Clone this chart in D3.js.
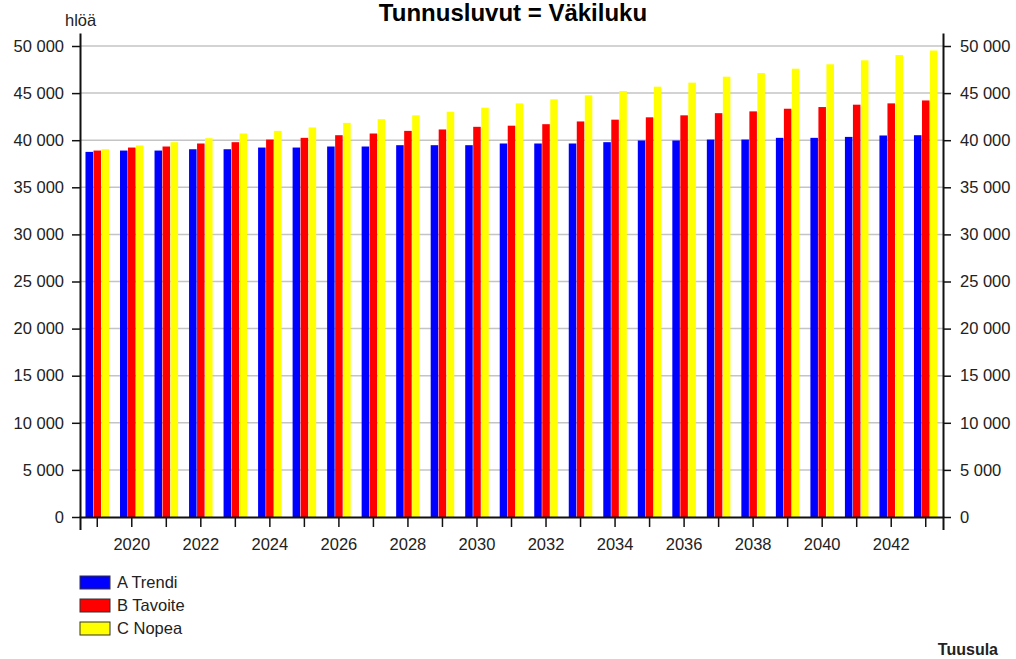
<!DOCTYPE html>
<html lang="fi">
<head>
    <meta charset="UTF-8">
    <title>Tunnusluvut = Väkiluku</title>
    <script src="https://d3js.org/d3.v7.min.js"></script>
    <style>
        body { margin: 0; background: #fff; }
        svg { display: block; }
        text { font-family: "Liberation Sans", Arial, sans-serif; fill: #222; }
        .tick text { font-size: 16.5px; }
        .grid line { stroke: #c4c4c4; stroke-width: 1.5px; }
        .axis path, .axis line { stroke: #111; }
        .axis path { stroke-width: 2px; }
        .axis line { stroke-width: 1.5px; }
    </style>
</head>
<body>
    <svg width="1016" height="659"></svg>
    <script>
        // years on the x axis
        const years = d3.range(2019, 2044);

        // series (hlöä)
        const seriesNames = ["A Trendi", "B Tavoite", "C Nopea"];
        const colors = ["#0000ff", "#ff0000", "#ffff00"];

        const trendi = [38760, 38900, 38900, 39040, 39040, 39220, 39220, 39330, 39330, 39470,
                        39470, 39470, 39650, 39650, 39650, 39790, 39970, 39970, 40070, 40070,
                        40250, 40250, 40350, 40500, 40530];
        const tavoite = [38900, 39220, 39330, 39650, 39790, 40070, 40250, 40530, 40710, 40990,
                         41140, 41420, 41540, 41700, 41990, 42180, 42430, 42640, 42870, 43060,
                         43340, 43520, 43770, 43910, 44220];
        const nopea = [39040, 39440, 39790, 40210, 40710, 40990, 41350, 41840, 42230, 42640,
                       43020, 43450, 43910, 44340, 44760, 45220, 45680, 46110, 46740, 47130,
                       47590, 48060, 48480, 49040, 49520];

        const yTicks = d3.range(0, 50001, 5000);

        const series = [trendi, tavoite, nopea];
        const table = years.map((yr, i) => ({ year: yr, values: series.map(s => s[i]) }));

        const plotLeft = 80, plotRight = 943, plotTop = 33, plotBottom = 517;

        const svg = d3.select("svg");

        const x = d3.scaleBand()
            .domain(years)
            .range([plotLeft, plotRight])
            .paddingInner(0.29)
            .paddingOuter(0.145);

        const xSub = d3.scaleBand()
            .domain(d3.range(series.length))
            .range([0, x.bandwidth()])
            .padding(0.06);

        const y = d3.scaleLinear()
            .domain([0, 51380])
            .range([plotBottom, plotTop]);

        const fmt = d3.formatLocale({ decimal: ",", thousands: " ", grouping: [3], currency: ["", ""] }).format(",d");

        // gridlines
        svg.append("g")
            .attr("class", "grid")
            .selectAll("line")
            .data(yTicks.filter(d => d > 0))
            .enter().append("line")
            .attr("x1", plotLeft)
            .attr("x2", plotRight)
            .attr("y1", d => y(d))
            .attr("y2", d => y(d));

        // bars
        const groups = svg.append("g")
            .selectAll("g")
            .data(table)
            .enter().append("g")
            .attr("transform", d => "translate(" + x(d.year) + ",0)");

        groups.selectAll("rect")
            .data(d => d.values)
            .enter().append("rect")
            .attr("x", (d, i) => xSub(i))
            .attr("width", xSub.bandwidth())
            .attr("y", d => y(d))
            .attr("height", d => y(0) - y(d))
            .attr("fill", (d, i) => colors[i]);

        // axes
        svg.append("g")
            .attr("class", "axis")
            .attr("transform", "translate(0," + plotBottom + ")")
            .call(d3.axisBottom(x)
                .tickSizeInner(10)
                .tickSizeOuter(13)
                .tickPadding(11)
                .tickFormat(d => d % 2 === 0 ? d : ""));

        svg.append("g")
            .attr("class", "axis")
            .attr("transform", "translate(" + plotLeft + ",0)")
            .call(d3.axisLeft(y)
                .tickValues(yTicks)
                .tickSizeInner(8)
                .tickSizeOuter(0)
                .tickPadding(8)
                .tickFormat(fmt));

        svg.append("g")
            .attr("class", "axis")
            .attr("transform", "translate(" + plotRight + ",0)")
            .call(d3.axisRight(y)
                .tickValues(yTicks)
                .tickSizeInner(8)
                .tickSizeOuter(0)
                .tickPadding(9)
                .tickFormat(fmt));

        // title and labels
        svg.append("text")
            .attr("x", 513)
            .attr("y", 21)
            .attr("text-anchor", "middle")
            .style("font-size", "24px")
            .style("font-weight", "bold")
            .style("fill", "#000")
            .text("Tunnusluvut = Väkiluku");

        svg.append("text")
            .attr("x", 65)
            .attr("y", 26)
            .style("font-size", "16.5px")
            .text("hlöä");

        svg.append("text")
            .attr("x", 998)
            .attr("y", 655)
            .attr("text-anchor", "end")
            .style("font-size", "16px")
            .style("font-weight", "bold")
            .text("Tuusula");

        // legend
        const legend = svg.append("g")
            .selectAll("g")
            .data(seriesNames)
            .enter().append("g")
            .attr("transform", (d, i) => "translate(80," + (576 + i * 23) + ")");

        legend.append("rect")
            .attr("width", 30)
            .attr("height", 13)
            .attr("fill", (d, i) => colors[i])
            .attr("stroke", "#333")
            .attr("stroke-width", 1);

        legend.append("text")
            .attr("x", 37)
            .attr("y", 12)
            .style("font-size", "16.5px")
            .text(d => d);
    </script>
</body>
</html>
